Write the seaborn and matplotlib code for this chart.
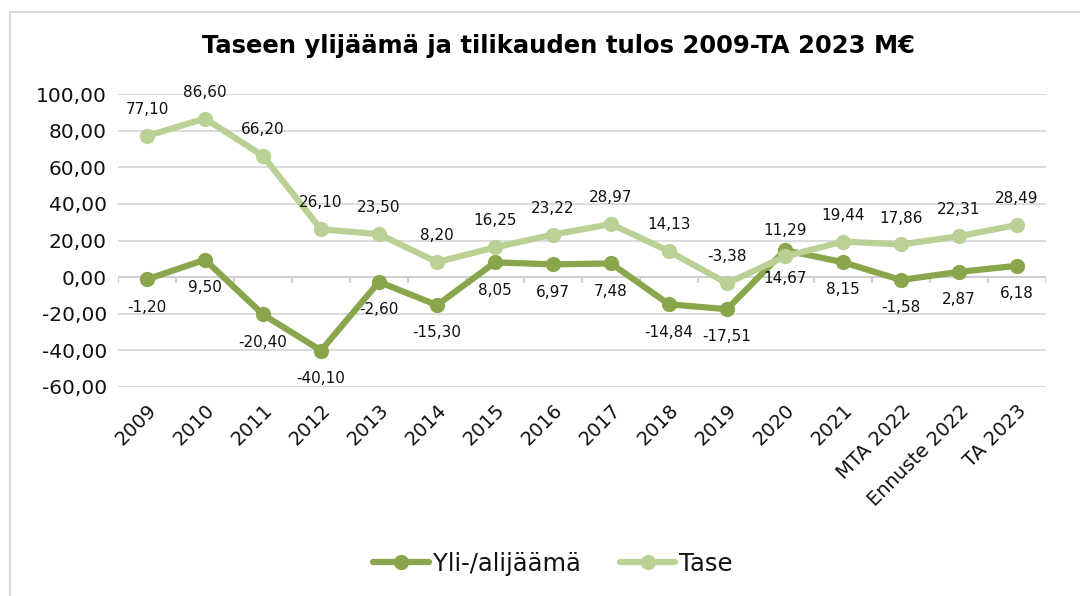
import numpy as np
import pandas as pd
import matplotlib
matplotlib.use("Agg")
import matplotlib.pyplot as plt
from matplotlib.lines import Line2D
import seaborn as sns

# data
CATS = ["2009", "2010", "2011", "2012", "2013", "2014", "2015", "2016", "2017",
        "2018", "2019", "2020", "2021", "MTA 2022", "Ennuste 2022", "TA 2023"]
YLI = [-1.20, 9.50, -20.40, -40.10, -2.60, -15.30, 8.05, 6.97, 7.48,
       -14.84, -17.51, 14.67, 8.15, -1.58, 2.87, 6.18]
TASE = [77.10, 86.60, 66.20, 26.10, 23.50, 8.20, 16.25, 23.22, 28.97,
        14.13, -3.38, 11.29, 19.44, 17.86, 22.31, 28.49]
SERIES = ["Yli-/alijäämä", "Tase"]
YTICKS = [-60, -40, -20, 0, 20, 40, 60, 80, 100]

DARK = "#8aa64c"
LIGHT = "#bad196"
INK = "#111111"

sns.set_theme(style="white")
plt.rcParams["font.family"] = ["DejaVu Sans"]

df = pd.DataFrame({"kausi": CATS * 2,
                   "arvo": YLI + TASE,
                   "sarja": [SERIES[0]] * len(CATS) + [SERIES[1]] * len(CATS)})
df["x"] = list(range(len(CATS))) * 2

fig = plt.figure(figsize=(10.8, 5.96), dpi=100)
ax = fig.add_axes([118 / 1080, 1 - 387 / 596, (1046 - 118) / 1080, (387 - 94) / 596])

sns.lineplot(data=df, x="x", y="arvo", hue="sarja", palette=[DARK, LIGHT],
             marker="o", markersize=11, linewidth=4.5, markeredgewidth=0,
             ax=ax, legend=False, zorder=3)

# gridlines + zero axis ticks
ax.set_ylim(-60, 100)
ax.set_xlim(-0.5, len(CATS) - 0.5)
ax.set_yticks(YTICKS)
ax.set_yticklabels([f"{v:.2f}".replace(".", ",") for v in YTICKS], fontsize=14.5, color=INK)
ax.yaxis.grid(True, color="#d9d9d9", linewidth=1.3, zorder=0)
ax.axhline(0, color="#d0d0d0", linewidth=1.5, zorder=1)
bounds = np.arange(len(CATS) + 1) - 0.5
ax.vlines(bounds, -3, 0, color="#d0d0d0", linewidth=1.5, zorder=1)
ax.set_xticks(range(len(CATS)))
ax.set_xticklabels(CATS, rotation=45, ha="right", rotation_mode="anchor",
                   fontsize=14, color=INK)
ax.tick_params(axis="both", length=0, pad=8)
ax.tick_params(axis="x", pad=10)
for s in ax.spines.values():
    s.set_visible(False)
ax.set_xlabel("")
ax.set_ylabel("")

# data labels
fmt = lambda v: f"{v:.2f}".replace(".", ",")
for i, v in enumerate(YLI):
    ax.annotate(fmt(v), (i, v), xytext=(0, -20), textcoords="offset points",
                ha="center", va="center", fontsize=11, color=INK)
for i, v in enumerate(TASE):
    ax.annotate(fmt(v), (i, v), xytext=(0, 19), textcoords="offset points",
                ha="center", va="center", fontsize=11, color=INK)

fig.text(0.517, 1 - 46 / 596, "Taseen ylijäämä ja tilikauden tulos 2009-TA 2023 M€",
         ha="center", va="center", fontsize=17.5, fontweight="bold", color="#000000")

# legend
handles = [Line2D([], [], color=c, linewidth=4.5, marker="o", markersize=11,
                  markeredgewidth=0) for c in (DARK, LIGHT)]
leg = fig.legend(handles, SERIES, loc="center", bbox_to_anchor=(0.512, 1 - 564 / 596),
                 ncol=2, frameon=False, fontsize=17.5, handlelength=2.3,
                 handletextpad=0.15, columnspacing=1.6)
for t in leg.get_texts():
    t.set_color(INK)

# outer chart border
fig.patches.append(plt.Rectangle((10 / 1080, -0.1), 1.2, 1.1 - 12 / 596,
                                 transform=fig.transFigure, fill=False,
                                 edgecolor="#d9d9d9", linewidth=1.5))

fig.savefig("out.png", dpi=100)
